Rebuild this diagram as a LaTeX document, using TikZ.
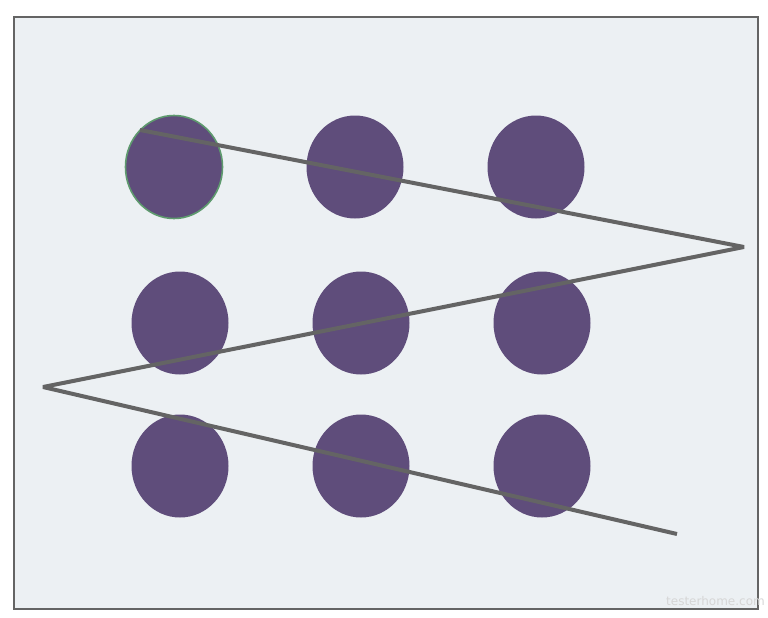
\documentclass[tikz,border=0pt]{standalone}
\usepackage{fontspec}
\setmainfont{DejaVu Sans}
\usetikzlibrary{shapes.geometric}
\definecolor{panelbg}{HTML}{ECF0F3}
\definecolor{dotfill}{HTML}{5F4D7B}
\definecolor{dotring}{HTML}{5E9A6E}
\definecolor{zigline}{HTML}{646464}
\begin{document}
\begin{tikzpicture}[
  x=1pt, y=-1pt,
  panel/.style={draw=zigline, line width=2pt, fill=panelbg},
  dot/.style={ellipse, fill=dotfill, minimum width=97pt, minimum height=103pt, inner sep=0pt},
  firstdot/.style={dot, draw=dotring, line width=1.6pt},
  zig/.style={draw=zigline, line width=4pt, line join=bevel},
  wmtext/.style={font=\fontsize{12}{12}\selectfont, text=black!16, inner sep=0pt}
]
\useasboundingbox (0,0) rectangle (768,618);
\node[panel, minimum width=744pt, minimum height=592pt, inner sep=0pt] (frame) at (386,313) {};

\node[firstdot] (d11) at (174,167) {};
\node[dot] (d12) at (355,167) {};
\node[dot] (d13) at (536,167) {};
\node[dot] (d21) at (180,323) {};
\node[dot] (d22) at (361,323) {};
\node[dot] (d23) at (542,323) {};
\node[dot] (d31) at (180,466) {};
\node[dot] (d32) at (361,466) {};
\node[dot] (d33) at (542,466) {};

\coordinate (z0) at (140,130);
\coordinate (z1) at (744,247);
\coordinate (z2) at (43,387);
\coordinate (z3) at (677,534);
\draw[zig] (z0) -- (z1) -- (z2) -- (z3);

\node[wmtext, anchor=base east] (wm) at (765,605) {testerhome.com};
\end{tikzpicture}
\end{document}
